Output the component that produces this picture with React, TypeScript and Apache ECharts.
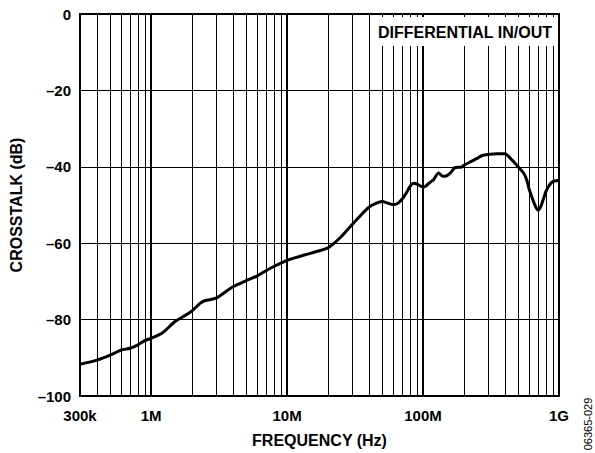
import React, { useEffect, useRef } from "react";
import * as echarts from "echarts";

// Frequency (Hz) and crosstalk (dB)
const freqHz = [
  3e5, 4e5, 5e5, 6e5, 7e5, 8e5, 9e5, 1e6, 1.2e6, 1.5e6, 1.8e6, 2e6, 2.3e6, 2.5e6, 3e6,
  4e6, 5e6, 6e6, 7e6, 8e6, 1e7, 1.2e7, 1.5e7, 2e7, 2.2e7, 2.5e7, 2.7e7, 3e7, 3.5e7, 4e7,
  4.5e7, 5e7, 5.5e7, 6e7, 6.5e7, 7e7, 7.5e7, 8e7, 8.5e7, 9e7, 1e8, 1.05e8, 1.15e8, 1.2e8,
  1.3e8, 1.4e8, 1.5e8, 1.6e8, 1.7e8, 1.8e8, 1.9e8, 2e8, 2.2e8, 2.5e8, 2.7e8, 3e8, 3.5e8,
  4e8, 4.5e8, 5e8, 5.5e8, 5.8e8, 6e8, 6.3e8, 6.7e8, 7e8, 7.3e8, 7.7e8, 8e8, 8.5e8, 9e8, 1e9,
];
const crosstalkDb = [
  -91.7, -90.6, -89.3, -88.0, -87.5, -86.6, -85.5, -84.9, -83.6, -80.5, -78.8, -77.7, -75.7, -75.0, -74.4,
  -71.4, -69.8, -68.6, -67.2, -66.1, -64.5, -63.6, -62.6, -61.2, -60.1, -58.3, -57.0, -55.2, -52.6, -50.6,
  -49.6, -49.1, -49.5, -49.9, -49.6, -48.5, -47.0, -45.2, -44.3, -44.5, -45.3, -45.0, -43.8, -43.3,
  -41.6, -42.5, -42.3, -41.5, -40.3, -40.1, -40.1, -39.6, -38.8, -37.8, -37.1, -36.8, -36.6,
  -36.6, -38.2, -40.0, -41.7, -43.5, -45.6, -47.8, -50.3, -51.3, -50.6, -48.3, -46.5, -44.8, -43.9, -43.5,
];

const xTickValues = [3e5, 1e6, 1e7, 1e8, 1e9];
const xTickLabels = ["300k", "1M", "10M", "100M", "1G"];
const majorGridHz = [1e6, 1e7, 1e8];
const minorGridHz = [
  4e5, 5e5, 6e5, 7e5, 8e5, 9e5,
  2e6, 3e6, 4e6, 5e6, 6e6, 7e6, 8e6, 9e6,
  2e7, 3e7, 4e7, 5e7, 6e7, 7e7, 8e7, 9e7,
  2e8, 3e8, 4e8, 5e8, 6e8, 7e8, 8e8, 9e8,
];
const yMin = -100;
const yMax = 0;
const yStep = 20;

const FONT = "'Liberation Sans', Arial, Helvetica, sans-serif";

export default function App() {
  const ref = useRef<HTMLDivElement>(null);

  useEffect(() => {
    const chart = echarts.init(ref.current!, null, { renderer: "svg" });
    const xLabel = (v: number) => {
      const l = Math.log10(v);
      for (let i = 0; i < xTickValues.length; i++) {
        if (Math.abs(Math.log10(xTickValues[i]) - l) < 0.01) return xTickLabels[i];
      }
      return "";
    };
    const gridLines = [
      ...minorGridHz.map((v) => ({ xAxis: v, lineStyle: { width: 1, color: "#000", type: "solid" } })),
      ...majorGridHz.map((v) => ({ xAxis: v, lineStyle: { width: 2, color: "#000", type: "solid" } })),
    ];
    chart.setOption({
      animation: false,
      backgroundColor: "#fff",
      grid: {
        left: 80,
        right: 36,
        top: 14,
        bottom: 57,
        show: true,
        borderColor: "#000",
        borderWidth: 2,
        backgroundColor: "transparent",
      },
      xAxis: {
        type: "log",
        min: 3e5,
        max: 1e9,
        logBase: 10,
        name: "FREQUENCY (Hz)",
        nameLocation: "middle",
        nameGap: 36,
        nameTextStyle: { fontFamily: FONT, fontWeight: "bold", fontSize: 16, color: "#000" },
        axisLine: { show: false },
        axisTick: { show: false },
        splitLine: { show: false },
        minorTick: { show: false },
        axisLabel: {
          show: true,
          showMinLabel: true,
          showMaxLabel: true,
          margin: 12,
          fontFamily: FONT,
          fontWeight: "bold",
          fontSize: 15,
          color: "#000",
          formatter: (v: number) => xLabel(v),
        },
      },
      yAxis: {
        type: "value",
        min: yMin,
        max: yMax,
        interval: yStep,
        name: "CROSSTALK (dB)",
        nameLocation: "middle",
        nameGap: 56,
        nameRotate: 90,
        nameTextStyle: { fontFamily: FONT, fontWeight: "bold", fontSize: 16, color: "#000" },
        axisLine: { show: false },
        axisTick: { show: false },
        splitLine: { show: true, lineStyle: { color: "#000", width: 1 } },
        axisLabel: {
          margin: 9,
          fontFamily: FONT,
          fontWeight: "bold",
          fontSize: 15,
          color: "#000",
          formatter: (v: number) => (v < 0 ? "\u2013" + Math.abs(v) : String(v)),
        },
      },
      series: [
        {
          type: "line",
          z: 1,
          data: freqHz.map((f, i) => [f, crosstalkDb[i]]),
          showSymbol: false,
          silent: true,
          lineStyle: { opacity: 0 },
          markLine: {
            silent: true,
            symbol: ["none", "none"],
            label: { show: false },
            data: gridLines,
          },
        },
        {
          type: "line",
          z: 5,
          data: freqHz.map((f, i) => [f, crosstalkDb[i]]),
          showSymbol: false,
          smooth: 0.25,
          lineStyle: { color: "#000", width: 3 },
        },
      ],
      graphic: [
        {
          type: "rect",
          z: 100,
          shape: { x: 370, y: 17, width: 186, height: 29 },
          style: { fill: "#fff", stroke: "none" },
        },
        {
          type: "text",
          z: 101,
          x: 465,
          y: 32,
          style: {
            text: "DIFFERENTIAL IN/OUT",
            fontFamily: FONT,
            fontWeight: "bold",
            fontSize: 16,
            fill: "#000",
            align: "center",
            verticalAlign: "middle",
          },
        },
        {
          type: "text",
          z: 101,
          x: 588,
          y: 424,
          rotation: Math.PI / 2,
          style: {
            text: "06365-029",
            fontFamily: FONT,
            fontSize: 11,
            fill: "#000",
            align: "center",
            verticalAlign: "middle",
          },
        },
      ],
    });
    return () => chart.dispose();
  }, []);

  return (
    <div
      ref={ref}
      style={{ position: "fixed", left: 0, top: 0, width: 595, height: 453, background: "#fff" }}
    />
  );
}
